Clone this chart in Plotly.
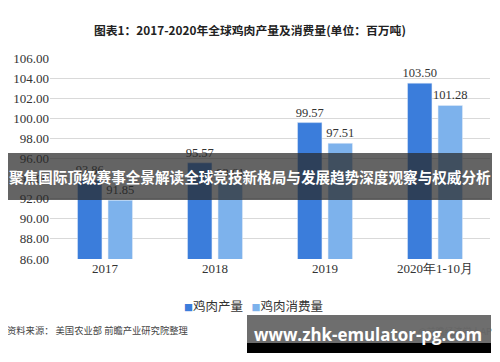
import plotly.graph_objects as go

categories = ["2017", "2018", "2019", "2020年1-10月"]
production = [93.86, 95.57, 99.57, 103.50]
consumption = [91.85, 93.61, 97.51, 101.28]
series_names = ["鸡肉产量", "鸡肉消费量"]
y_ticks = [86, 88, 90, 92, 94, 96, 98, 100, 102, 104, 106]

# page body has an 8px margin, so the figure is drawn shifted by (8, 8)
OFF = 8
W, H = 500, 362
ML, MR, MT, MB = 50 - OFF, 10 + OFF, 58 - OFF, 103 + OFF

def px_x(px):
    return (px - OFF - ML) / (W - ML - MR)

def px_y(py):
    return (H - MB - (py - OFF)) / (H - MT - MB)

c_prod = "#3b7ddb"
c_cons = "#7db2ec"
colors = [c_prod, c_cons]
serif = "Liberation Serif"
cjk = "Noto Sans CJK SC"

fig = go.Figure()
for name, vals, col in [(series_names[0], production, c_prod), (series_names[1], consumption, c_cons)]:
    fig.add_trace(go.Bar(
        x=categories, y=vals, name=name, marker_color=col, showlegend=False,
        text=[f"{v:.2f}" for v in vals], textposition="outside",
        textfont=dict(family=serif, size=12.5, color="#333"),
        cliponaxis=False, constraintext="none",
    ))

fig.update_layout(
    width=W, height=H, margin=dict(l=ML, r=MR, t=MT, b=MB, autoexpand=False),
    paper_bgcolor="white", plot_bgcolor="white",
    barmode="group", bargap=0.445, bargroupgap=0.2,
    showlegend=False,
    xaxis=dict(type="category", showgrid=False, showline=False, ticks="",
               automargin=False,
               tickfont=dict(family=serif, size=13, color="#333")),
    yaxis=dict(range=[86, 106], tickvals=y_ticks, tickformat=".2f",
               automargin=False,
               showgrid=True, gridcolor="#d9d9d9", gridwidth=1,
               zeroline=False, showline=False, ticks="",
               tickfont=dict(family=serif, size=13, color="#333")),
    font=dict(family=cjk),
)

legend_text = "&nbsp;&nbsp;&nbsp;".join(
    f"<span style='color:{c};font-size:9px'>■</span>{n}" for n, c in zip(series_names, colors)
)

annotations = [
    dict(text="<b>图表1：2017-2020年全球鸡肉产量及消费量(单位：百万吨)</b>",
         x=px_x(250), y=px_y(30), xref="paper", yref="paper", showarrow=False,
         font=dict(family=cjk, size=11.8, color="#222"), xanchor="center", yanchor="middle"),
    dict(text=legend_text,
         x=px_x(253), y=px_y(305), xref="paper", yref="paper", showarrow=False,
         font=dict(family=cjk, size=12.5, color="#333"), xanchor="center", yanchor="middle"),
    dict(text="资料来源： 美国农业部 前瞻产业研究院整理",
         x=px_x(5), y=px_y(330), xref="paper", yref="paper", showarrow=False,
         font=dict(family=cjk, size=9.3, color="#444"), xanchor="left", yanchor="middle"),
    dict(text="@前瞻经济学人APP",
         x=px_x(500), y=px_y(331), xref="paper", yref="paper", showarrow=False,
         font=dict(family=cjk, size=9, color="#666"), xanchor="right", yanchor="middle"),
    dict(text="<b>聚焦国际顶级赛事全景解读全球竞技新格局与发展趋势深度观察与权威分析</b>",
         x=px_x(250), y=px_y(176), xref="paper", yref="paper", showarrow=False,
         font=dict(family=cjk, size=14.6, color="white"), xanchor="center", yanchor="middle"),
    dict(text="<b>www.zhk-emulator-pg.com</b>",
         x=px_x(367.5), y=px_y(334), xref="paper", yref="paper", showarrow=False,
         font=dict(family="Open Sans", size=16.9, color="white"), xanchor="center", yanchor="middle"),
]

shapes = [
    dict(type="rect", xref="paper", yref="paper", x0=px_x(0), x1=px_x(500),
         y0=px_y(153), y1=px_y(200), fillcolor="rgba(40,40,40,0.72)", line_width=0, layer="above"),
    dict(type="rect", xref="paper", yref="paper", x0=px_x(247), x1=px_x(491),
         y0=px_y(315), y1=px_y(343), fillcolor="rgba(90,90,90,0.88)", line_width=0, layer="above"),
    dict(type="rect", xref="paper", yref="paper", x0=px_x(247), x1=px_x(491),
         y0=px_y(343), y1=px_y(353), fillcolor="black", line_width=0, layer="above"),
]

fig.update_layout(annotations=annotations, shapes=shapes)
fig.write_html("out.html")
